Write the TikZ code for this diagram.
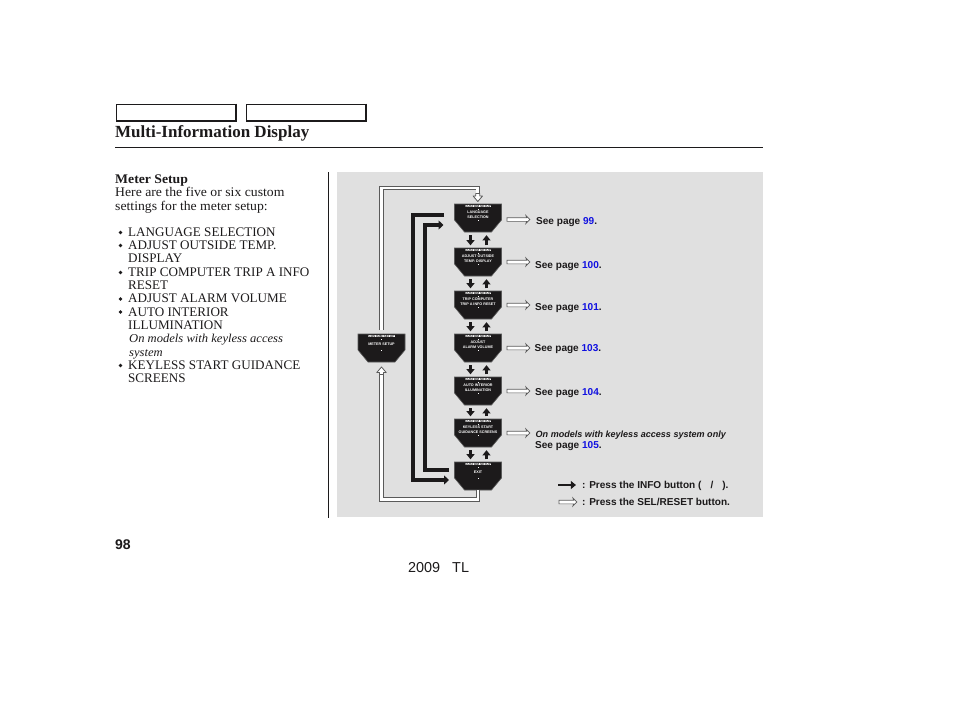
\documentclass[tikz,border=0pt]{standalone}
\usepackage{fontspec}
\setmainfont{Liberation Serif}
\setsansfont{Liberation Sans}
\newfontfamily\stretched[FakeStretch=1.04]{Liberation Serif}
\usetikzlibrary{arrows.meta,shapes.arrows,calc}
\definecolor{panel}{HTML}{E0E0E0}
\definecolor{ink}{HTML}{1C1A1B}
\definecolor{pageblue}{HTML}{1010E0}
\definecolor{edge}{HTML}{5A5A5A}
\newcommand{\bodyf}{\stretched\fontsize{13.2}{14}\selectfont}
\newcommand{\capsf}{\fontsize{13.1}{14}\selectfont}
\newcommand{\seef}{\sffamily\bfseries\fontsize{10.05}{11}\selectfont}
\newcommand{\pg}[1]{{\color{pageblue}#1}}
% \scr{name}{x-left}{y-top}{text}
\newcommand{\scr}[4]{%
  \fill[ink,draw=edge,line width=.6] (#2,#3) -- ++(47,0) -- ++(0,16) -- ++(-10,12) -- ++(-27,0) -- ++(-10,-12) -- cycle;
  \node[screenbox] (#1) at ($(#2,#3)+(23.5,14)$) {};
  \node[headbox] (#1h) at ($(#2,#3)+(23.5,2)$) {CUSTOM SETUP};
  \node[screentext] (#1t) at ($(#2,#3)+(23.5,10.5)$) {#4};
  \fill[white] ($(#2,#3)+(23,5.4)$) rectangle ++(1,1);
  \fill[white] ($(#2,#3)+(23,16)$) rectangle ++(1,1);
}
\tikzset{
  x=1pt,y=-1pt,
  txt/.style={anchor=base west,inner sep=0,font=\capsf,text=ink},
  lower/.style={anchor=base west,inner sep=0,font=\bodyf,text=ink},
  see/.style={anchor=base west,inner sep=0,font=\seef,text=ink},
  screenbox/.style={minimum width=47,minimum height=28,inner sep=0},
  headbox/.style={fill=white,inner xsep=.4,inner ysep=.2,font=\sffamily\bfseries\fontsize{3.3}{3.6}\selectfont,text=ink},
  screentext/.style={inner sep=0,align=center,text=white,font=\sffamily\bfseries\fontsize{3.7}{4.5}\selectfont},
  blk/.style={draw=ink,line width=2.9,-{Triangle[length=5.2,width=8]}},
  bigblk/.style={draw=ink,line width=3.3},
  wline/.style={draw=edge,line width=.8,double=white,double distance=2.8},
  wtip/.style={draw=edge,fill=white,line width=.8},
  warrow/.style={single arrow,draw=edge,fill=white,line width=.7,inner sep=1.5,
    minimum height=23,minimum width=8,single arrow head extend=2.2,single arrow head indent=.8},
  bigwarrow/.style={warrow,minimum height=18},
  rulel/.style={draw=ink,line width=.9}
}
\begin{document}
\begin{tikzpicture}
\path[use as bounding box,fill=white] (0,0) rectangle (954,710);
% header
\node[draw=ink,line width=.9,fill=white,minimum width=120,minimum height=17,inner sep=0] (tab1) at (176,112.5) {};
\node[draw=ink,line width=.9,fill=white,minimum width=120,minimum height=17,inner sep=0] (tab2) at (306,112.5) {};
\draw[draw=ink,line width=2] (tab1.north east) -- (tab1.south east) -- (tab1.south west);
\draw[draw=ink,line width=2] (tab2.north east) -- (tab2.south east) -- (tab2.south west);
\node[txt,font=\bfseries\fontsize{17}{18}\selectfont] (title) at (115,137) {Multi-Information Display};
\coordinate (ruleA) at (115,147); \coordinate (ruleB) at (763,147);
\draw[rulel] (ruleA) -- (ruleB);
\coordinate (ruleC) at (328,172); \coordinate (ruleD) at (328,518);
\draw[rulel] (ruleC) -- (ruleD);
% left column
\node[lower,font=\stretched\bfseries\fontsize{13.2}{14}\selectfont] (t0) at (115,183) {Meter Setup};
\node[lower] (t1) at (115,196) {Here are the five or six custom};
\node[lower] (t2) at (115,210) {settings for the meter setup:};
\foreach \y in {232.5,245.5,272.5,299,312,365.5}{
  \fill[ink] (120.5,\y) circle (1.9);
}
\node[txt] (l1) at (128,236) {LANGUAGE SELECTION};
\node[txt] (l2) at (128,249) {ADJUST OUTSIDE TEMP.};
\node[txt] (l3) at (128,262) {DISPLAY};
\node[txt] (l4) at (128,276) {TRIP COMPUTER TRIP A INFO};
\node[txt] (l5) at (128,289) {RESET};
\node[txt] (l6) at (128,302) {ADJUST ALARM VOLUME};
\node[txt] (l7) at (128,316) {AUTO INTERIOR};
\node[txt] (l8) at (128,329) {ILLUMINATION};
\node[lower,font=\stretched\itshape\fontsize{12.1}{13}\selectfont] (l9) at (129,342) {On models with keyless access};
\node[lower,font=\stretched\itshape\fontsize{12.1}{13}\selectfont] (l10) at (129,356) {system};
\node[txt] (l11) at (128,369) {KEYLESS START GUIDANCE};
\node[txt] (l12) at (128,382) {SCREENS};
% panel
\fill[panel] (337,172) rectangle (763,517);
% screens
\scr{lang}{454.5}{204}{LANGUAGE\\SELECTION}
\scr{temp}{454.5}{248}{ADJUST OUTSIDE\\TEMP. DISPLAY}
\scr{trip}{454.5}{291}{TRIP COMPUTER\\TRIP A INFO RESET}
\scr{alarm}{454.5}{334}{ADJUST\\ALARM VOLUME}
\scr{auto}{454.5}{377}{AUTO INTERIOR\\ILLUMINATION}
\scr{key}{454.5}{419}{KEYLESS START\\GUIDANCE SCREENS}
\scr{exit}{454.5}{462}{EXIT}
\scr{meter}{358}{334}{METER SETUP}
% black up/down arrows between screens
\foreach \a/\b in {lang/temp,temp/trip,trip/alarm,alarm/auto,auto/key,key/exit}{
  \draw[blk] ($(\a.south)+(-7.5,3)$) -- ($(\b.north)+(-7.5,-2.5)$);
  \draw[blk] ($(\b.north)+(8.5,-2.5)$) -- ($(\a.south)+(8.5,3)$);
}
% big black loops
\coordinate (oStart) at (444,215);
\coordinate (oEnd) at (449,480);
\coordinate (iStart) at (449,470);
\coordinate (iEnd) at (443.5,225);
\draw[bigblk,-{Triangle[length=5,width=9]}] (oStart) -- (413,215) -- (413,480) -- (oEnd);
\draw[bigblk,-{Triangle[length=5,width=9]}] (iStart) -- (425,470) -- (425,225) -- (iEnd);
% white loops
\coordinate (wA) at (381.5,330);
\coordinate (wB) at (477.8,194);
\coordinate (wC) at (478,490);
\coordinate (wD) at (381.5,372);
\draw[wline] (wA) -- (381.5,188) -- (477.8,188) -- (wB);
\draw[wline] (wC) -- (478,499.5) -- (381.5,499.5) -- (wD);
\draw[wtip,line join=round] (475.8,193.5) -- (479.8,193.5) -- (479.8,196) -- (482.5,196) -- (477.8,201.5) -- (473.1,196) -- (475.8,196) -- cycle;
\draw[wtip,line join=round] (379.5,374.5) -- (383.5,374.5) -- (383.5,372.5) -- (386.2,372.5) -- (381.5,367) -- (376.8,372.5) -- (379.5,372.5) -- cycle;
% white right arrows and page references
\foreach \nm/\y in {a1/219.5,a2/262,a3/305,a4/348,a5/391,a6/433}{
  \node[warrow] (\nm) at (517.5,\y) {};
}
\node[see] (s1) at (536,224) {See page \pg{99}.};
\node[see] (s2) at (535,268) {See page \pg{100}.};
\node[see] (s3) at (535,310) {See page \pg{101}.};
\node[see] (s4) at (534.5,351) {See page \pg{103}.};
\node[see] (s5) at (535,395) {See page \pg{104}.};
\node[see,font=\sffamily\bfseries\itshape\fontsize{9.05}{10}\selectfont] (s6) at (535.5,437) {On models with keyless access system only};
\node[see] (s7) at (535,448) {See page \pg{105}.};
% legend
\coordinate (kA) at (558,485); \coordinate (kB) at (576,485);
\draw[blk] (kA) -- (kB);
\node[bigwarrow] (k2) at (567,502) {};
\node[see] (k1t) at (582,488) {: Press the INFO button (\hspace{9pt}/\hspace{9pt}).};
\node[see] (k2t) at (582,505) {: Press the SEL/RESET button.};
% footer
\node[anchor=base west,inner sep=0,font=\sffamily\bfseries\fontsize{14}{15}\selectfont,text=ink] (pn) at (115,549) {98};
\node[anchor=base west,inner sep=0,font=\sffamily\fontsize{14.4}{15}\selectfont,text=ink] (yr) at (408,572) {2009\hspace{8pt} TL};
\end{tikzpicture}
\end{document}
